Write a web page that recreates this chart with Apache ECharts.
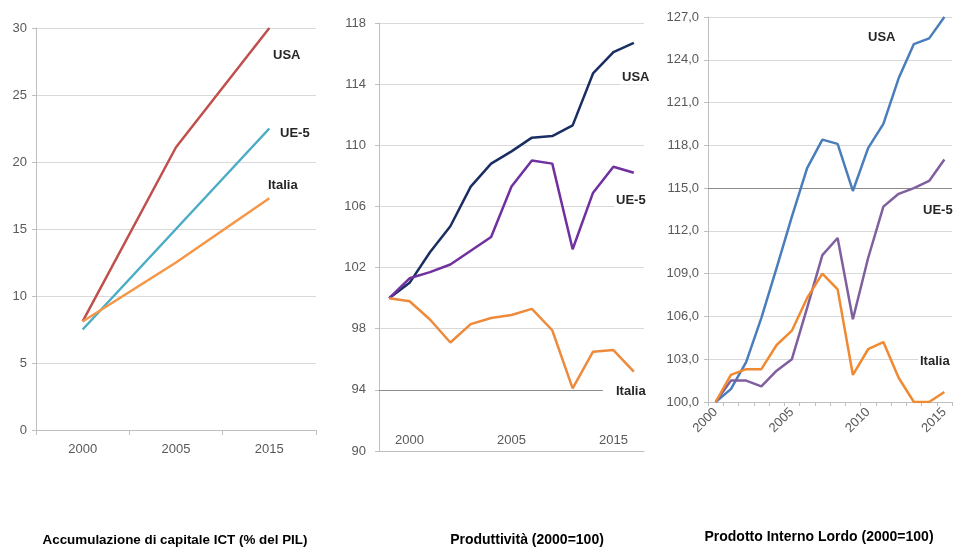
<!DOCTYPE html>
<html>
<head>
<meta charset="utf-8">
<script src="https://cdn.jsdelivr.net/npm/echarts@6/dist/echarts.min.js"></script>
<style>
html, body { margin: 0; padding: 0; background: #fff; }
#chart { width: 961px; height: 547px; }
</style>
</head>
<body>
<div id="chart"></div>
<script>
// pannello 1: accumulazione di capitale ICT (% del PIL)
const accYears = ['2000', '2005', '2015'];
const accUSA = [8.1, 21.1, 30.0];
const accUE5 = [7.5, 15.0, 22.5];
const accItalia = [8.1, 12.5, 17.3];

// pannello 2: produttività (2000=100)
const prodLabels = ['', '2000', '', '', '', '', '2005', '', '', '', '', '2015', ''];
const prodUSA = [100, 101.0, 103.0, 104.7, 107.3, 108.8, 109.6, 110.5, 110.6, 111.3, 114.7, 116.1, 116.7];
const prodUE5 = [100, 101.3, 101.7, 102.2, 103.1, 104.0, 107.3, 109.0, 108.8, 103.2, 106.9, 108.6, 108.2];
const prodItalia = [100, 99.8, 98.6, 97.1, 98.3, 98.7, 98.9, 99.3, 97.9, 94.1, 96.5, 96.6, 95.2];

// pannello 3: prodotto interno lordo (2000=100)
const pilYears = ['2000', '2001', '2002', '2003', '2004', '2005', '2006', '2007',
                  '2008', '2009', '2010', '2011', '2012', '2013', '2014', '2015'];
const pilUSA = [100, 100.9, 102.8, 105.9, 109.4, 113.0, 116.4, 118.4, 118.1, 114.8, 117.8, 119.5, 122.7, 125.1, 125.5, 127.0];
const pilUE5 = [100, 101.5, 101.5, 101.1, 102.2, 103.0, 106.6, 110.3, 111.5, 105.8, 110.1, 113.7, 114.6, 115.0, 115.5, 117.0];
const pilItalia = [100, 101.9, 102.3, 102.3, 104.0, 105.0, 107.3, 109.0, 107.9, 101.9, 103.7, 104.2, 101.7, 100.0, 100.0, 100.7];

const FONT = '"Liberation Sans", Arial, sans-serif';
const labelGray = '#595959';
const axisGray = '#BFBFBF';
const gridGray = '#D9D9D9';

const chart = echarts.init(document.getElementById('chart'));

function lineSeries(name, data, color, xi, extra) {
  return Object.assign({
    name: name,
    type: 'line',
    xAxisIndex: xi,
    yAxisIndex: xi,
    data: data,
    symbol: 'none',
    lineStyle: { color: color, width: 2.5 },
    itemStyle: { color: color },
    silent: true,
    z: 3
  }, extra || {});
}

// linea di griglia più scura
function darkLine(v) {
  return {
    silent: true,
    symbol: 'none',
    label: { show: false },
    lineStyle: { color: '#8C8C8C', width: 1, type: 'solid' },
    data: [{ yAxis: v }],
    z: 1
  };
}

function tag(text, x, y, pad) {
  return {
    type: 'text',
    x: x,
    y: y,
    z: 10,
    style: {
      text: text,
      font: 'bold 13px ' + FONT,
      fill: '#262626',
      backgroundColor: '#fff',
      padding: pad || [1, 2],
      verticalAlign: 'middle'
    }
  };
}

function caption(text, x, y, size) {
  return {
    type: 'text',
    x: x,
    y: y,
    style: {
      text: text,
      font: 'bold ' + size + 'px ' + FONT,
      fill: '#000',
      align: 'center',
      verticalAlign: 'middle'
    }
  };
}

const option = {
  animation: false,
  backgroundColor: '#fff',
  textStyle: { fontFamily: FONT },
  grid: [
    { left: 36, right: 645, top: 28, bottom: 117 },
    { left: 379, right: 317, top: 23, bottom: 96 },
    { left: 708, right: 9, top: 17, bottom: 145 }
  ],
  xAxis: [
    {
      gridIndex: 0,
      type: 'category',
      data: accYears,
      boundaryGap: true,
      axisLine: { lineStyle: { color: axisGray } },
      axisTick: { show: true, length: 5, lineStyle: { color: axisGray } },
      axisLabel: { color: labelGray, fontSize: 13, margin: 13 }
    },
    {
      gridIndex: 1,
      type: 'category',
      data: prodLabels,
      boundaryGap: true,
      axisLine: { lineStyle: { color: axisGray } },
      axisTick: { show: false },
      axisLabel: { color: labelGray, fontSize: 13, inside: true, margin: 4, interval: 0 }
    },
    {
      gridIndex: 2,
      type: 'category',
      data: pilYears,
      boundaryGap: true,
      axisLine: { lineStyle: { color: axisGray } },
      axisTick: { show: true, length: 4, interval: 0, lineStyle: { color: axisGray } },
      axisLabel: { color: labelGray, fontSize: 13, rotate: 45, interval: 4, margin: 8 }
    }
  ],
  yAxis: [
    {
      gridIndex: 0,
      type: 'value',
      min: 0,
      max: 30,
      interval: 5,
      axisLine: { show: true, lineStyle: { color: axisGray } },
      axisTick: { show: true, length: 4, lineStyle: { color: axisGray } },
      axisLabel: { color: labelGray, fontSize: 13, margin: 9 },
      splitLine: { lineStyle: { color: gridGray } }
    },
    {
      gridIndex: 1,
      type: 'value',
      min: 90,
      max: 118,
      interval: 4,
      axisLine: { show: true, lineStyle: { color: axisGray } },
      axisTick: { show: true, length: 4, lineStyle: { color: axisGray } },
      axisLabel: { color: labelGray, fontSize: 13, margin: 13 },
      splitLine: { lineStyle: { color: gridGray } }
    },
    {
      gridIndex: 2,
      type: 'value',
      min: 100,
      max: 127,
      interval: 3,
      axisLine: { show: true, lineStyle: { color: axisGray } },
      axisTick: { show: true, length: 4, lineStyle: { color: axisGray } },
      axisLabel: {
        color: labelGray, fontSize: 13, margin: 9,
        formatter: v => v.toFixed(1).replace('.', ',')
      },
      splitLine: { lineStyle: { color: gridGray } }
    }
  ],
  series: [
    lineSeries('USA', accUSA, '#C0504D', 0),
    lineSeries('UE-5', accUE5, '#4BACC6', 0),
    lineSeries('Italia', accItalia, '#F79646', 0),

    lineSeries('USA', prodUSA, '#1B2E63', 1),
    lineSeries('UE-5', prodUE5, '#7030A0', 1),
    lineSeries('Italia', prodItalia, '#ED8A3C', 1, { markLine: darkLine(94) }),

    lineSeries('USA', pilUSA, '#4A7EBB', 2),
    lineSeries('UE-5', pilUE5, '#7F5F9E', 2),
    lineSeries('Italia', pilItalia, '#F08A32', 2, { markLine: darkLine(115) })
  ],
  graphic: [
    tag('USA', 271, 55),
    tag('UE-5', 278, 133),
    tag('Italia', 266, 185),

    tag('USA', 620, 77),
    tag('UE-5', 614, 200),
    tag('Italia', 603, 391, [1, 6, 1, 13]),

    tag('USA', 866, 37),
    tag('UE-5', 921, 210),
    tag('Italia', 918, 361),

    caption('Accumulazione di capitale ICT (% del PIL)', 175, 540, 13.4),
    caption('Produttività (2000=100)', 527, 540, 14),
    caption('Prodotto Interno Lordo (2000=100)', 819, 537, 14)
  ]
};

chart.setOption(option);
</script>
</body>
</html>
